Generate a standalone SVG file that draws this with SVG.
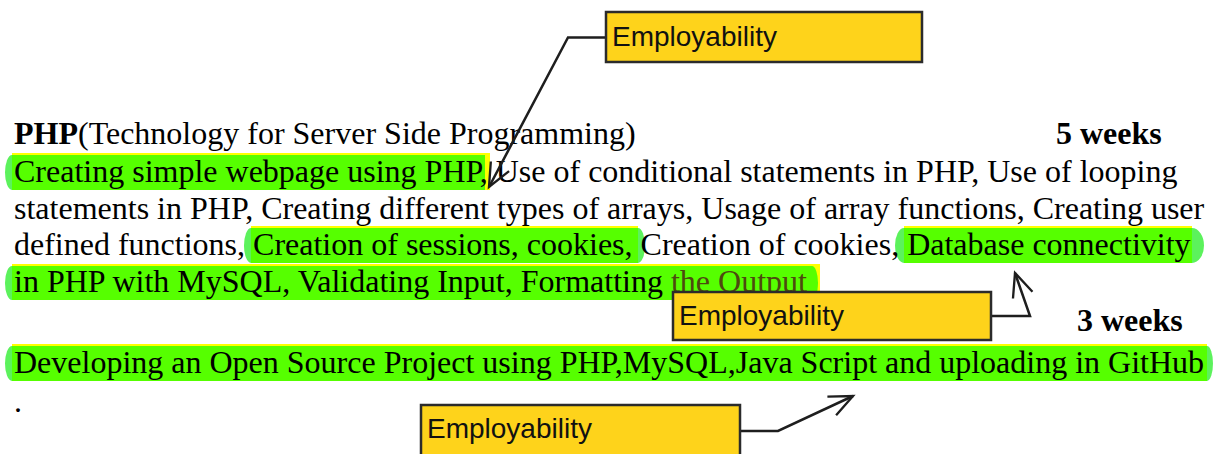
<svg xmlns="http://www.w3.org/2000/svg" width="1216" height="454" viewBox="0 0 1216 454">
  <defs>
    <style>
      .body { font-family: "Liberation Serif", "Times New Roman", serif; font-size: 32px; fill: #000; }
      .bold { font-weight: bold; }
      .hl { fill: #56ff00; }
      .hl-edge { fill: #ffff00; }
      .hl-cap { fill: #5cf25c; }
      .box { fill: #fed31b; stroke: #2b2b2b; stroke-width: 2.5; }
      .box-label { font-family: "Liberation Sans", Arial, sans-serif; font-size: 28px; fill: #111; }
      .link { fill: none; stroke: #1e1e1e; stroke-width: 2.5; }
    </style>
    <marker id="openArrow" markerUnits="userSpaceOnUse" markerWidth="30" markerHeight="30"
            viewBox="-28 -14 32 28" refX="0" refY="0" orient="auto">
      <path d="M-25,-11 L0,0 L-25,11" fill="none" stroke="#1e1e1e" stroke-width="2.5"/>
    </marker>
  </defs>

  <rect width="1216" height="454" fill="#fff"/>

  <!-- highlighted phrases -->
  <g id="highlights">
    <!-- line 2: Creating simple webpage using PHP, -->
    <rect class="hl-edge" x="12" y="153" width="478" height="37"/>
    <rect class="hl" x="12" y="155" width="473" height="35"/>
    <path class="hl-cap" d="M12,155 A7,17.5 0 0 0 12,190 Z"/>
    <!-- line 4: Creation of sessions, cookies, -->
    <rect class="hl-edge" x="251" y="226" width="387" height="2"/>
    <rect class="hl" x="251" y="228" width="387" height="35"/>
    <path class="hl-cap" d="M251,228 A7,17.5 0 0 0 251,263 Z"/>
    <path class="hl-cap" d="M638,228 A7,17.5 0 0 1 638,263 Z"/>
    <!-- line 4: Database connectivity -->
    <rect class="hl-edge" x="904" y="226" width="288" height="2"/>
    <rect class="hl" x="904" y="228" width="288" height="35"/>
    <path class="hl-cap" d="M904,228 A9,17.5 0 0 0 904,263 Z"/>
    <path class="hl-cap" d="M1192,228 A12,17.5 0 0 1 1192,263 Z"/>
    <!-- line 5: in PHP with MySQL, ... the Output -->
    <rect class="hl-edge" x="12" y="264" width="808" height="36"/>
    <rect class="hl" x="12" y="266" width="800" height="34"/>
    <path class="hl" d="M812,266 A6,17 0 0 1 812,300 Z"/>
    <path class="hl-cap" d="M12,266 A7,17 0 0 0 12,300 Z"/>
    <!-- line 7: Developing an Open Source Project ... -->
    <rect class="hl-edge" x="12" y="344" width="1195" height="2"/>
    <rect class="hl" x="12" y="346" width="1195" height="35"/>
    <path class="hl-cap" d="M12,346 A7,17.5 0 0 0 12,381 Z"/>
    <path class="hl-cap" d="M1207,346 A6,17.5 0 0 1 1207,381 Z"/>
  </g>

  <!-- course text -->
  <g id="course-text" class="body">
    <text x="14" y="144"><tspan class="bold">PHP</tspan>(Technology for Server Side Programming)</text>
    <text x="1056" y="144" class="bold">5 weeks</text>
    <text x="14" y="181.5">Creating simple webpage using PHP, Use of conditional statements in PHP, Use of looping</text>
    <text x="14" y="218.5">statements in PHP, Creating different types of arrays, Usage of array functions, Creating user</text>
    <text x="14" y="255">defined functions, Creation of sessions, cookies, Creation of cookies, Database connectivity</text>
    <text x="14" y="291.5">in PHP with MySQL, Validating Input, Formatting <tspan fill="#4d4a10">the Output</tspan></text>
    <text x="1077" y="331" class="bold">3 weeks</text>
    <text x="14" y="373">Developing an Open Source Project using PHP,MySQL,Java Script and uploading in GitHub</text>
    <text x="14" y="412">.</text>
  </g>

  <!-- connectors -->
  <g id="connectors">
    <polyline class="link" points="606,37.5 568,37.5 489,187" marker-end="url(#openArrow)"/>
    <polyline class="link" points="991,316 1030,316 1015,273" marker-end="url(#openArrow)"/>
    <polyline class="link" points="740,431 778,431 853,396" marker-end="url(#openArrow)"/>
  </g>

  <!-- callout nodes -->
  <g id="employability-1">
    <rect class="box" x="606" y="12" width="316" height="50"/>
    <text class="box-label" x="612" y="46">Employability</text>
  </g>
  <g id="employability-2">
    <rect class="box" x="673" y="292" width="318" height="48"/>
    <text class="box-label" x="679" y="325">Employability</text>
  </g>
  <g id="employability-3">
    <rect class="box" x="421" y="405" width="319" height="52"/>
    <text class="box-label" x="427" y="438">Employability</text>
  </g>
</svg>
